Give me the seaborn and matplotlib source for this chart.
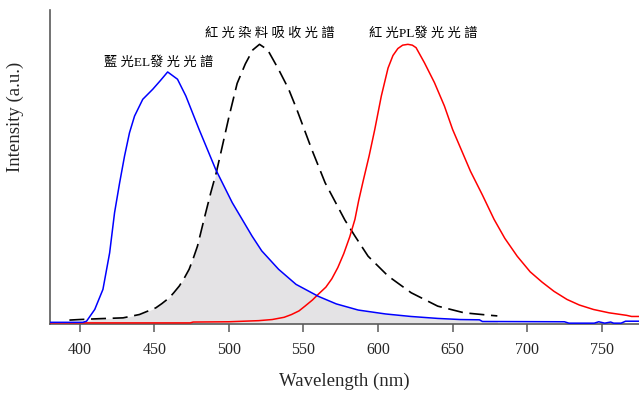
import numpy as np
import pandas as pd
import matplotlib
matplotlib.use("Agg")
import matplotlib.pyplot as plt
import seaborn as sns

# ---- data ----
blue_nm = [380, 395, 402, 404.5, 410, 415.5, 420, 423.3, 426.7, 430, 433.3, 436.7,
           442.2, 448.9, 454, 458.9, 465.5, 471.1, 480, 491.1, 502.2, 515.5, 522,
           533.3, 545, 560, 572, 586.7, 605, 622, 640, 655, 668, 670, 725, 728,
           745, 748, 752, 756, 758, 763, 766, 775]
blue_int = [0.004, 0.004, 0.004, 0.008, 0.05, 0.122, 0.253, 0.397, 0.504, 0.6, 0.683, 0.743,
            0.803, 0.839, 0.87, 0.901, 0.875, 0.815, 0.695, 0.552, 0.433, 0.313, 0.26,
            0.194, 0.14, 0.097, 0.07, 0.048, 0.034, 0.025, 0.018, 0.014, 0.013, 0.007, 0.006, 0.001,
            0.001, 0.006, 0.001, 0.005, 0.001, 0.001, 0.008, 0.008]

abs_nm = [393, 400, 413, 429, 440, 451, 455, 460, 463, 466.7, 470, 473.3, 476, 478.9, 483.3,
          487.8, 491.5, 494.5, 500, 505.5, 511, 516, 520.5, 526, 533.3, 540, 545.5, 555.5,
          564.5, 577.8, 584.5, 593.3, 606.7, 622.2, 640, 657.8, 675.5, 680]
abs_int = [0.012, 0.014, 0.017, 0.02, 0.032, 0.056, 0.071, 0.092, 0.11, 0.134, 0.162, 0.194,
           0.232, 0.277, 0.373, 0.468, 0.54, 0.61, 0.74, 0.86, 0.93, 0.98, 1.0, 0.98, 0.91,
           0.84, 0.767, 0.624, 0.504, 0.37, 0.313, 0.241, 0.17, 0.11, 0.062, 0.038, 0.029, 0.027]

red_nm = [380, 474, 476, 500, 520, 529, 537, 542, 547, 551, 556, 560, 565, 569, 573,
          577, 581, 584.5, 587, 590, 594, 597.8, 602.2, 606.7, 610, 613.3, 616.5, 620,
          623, 625.5, 631.1, 637.8, 644.5, 650, 656, 662, 670, 677.8, 685, 693.3, 702, 710,
          718, 726.7, 735, 744.5, 755, 766.7, 770, 775]
red_int = [0.002, 0.002, 0.005, 0.006, 0.01, 0.014, 0.022, 0.032, 0.045, 0.062, 0.084, 0.105,
           0.13, 0.16, 0.2, 0.25, 0.31, 0.373, 0.44, 0.51, 0.6, 0.695, 0.815, 0.915,
           0.96, 0.985, 0.997, 1.0, 0.997, 0.988, 0.934, 0.863, 0.779, 0.695, 0.62, 0.545, 0.46,
           0.373, 0.305, 0.241, 0.185, 0.148, 0.115, 0.086, 0.066, 0.05, 0.038, 0.029, 0.025, 0.025]

x_ticks = [400, 450, 500, 550, 600, 650, 700, 750]
note_texts = ["藍 光EL發 光 光 譜", "紅 光 染 料 吸 收 光 譜", "紅 光PL發 光 光 譜"]
note_x = [452.8, 527.2, 630.0]
note_y = [0.934, 1.039, 1.039]
x_label = "Wavelength (nm)"
y_label = "Intensity (a.u.)"

# ---- style ----
sns.set_style("ticks")
plt.rcParams['font.family'] = ['Liberation Serif', 'Noto Sans CJK TC']

fig = plt.figure(figsize=(6.39, 3.94), dpi=100)
ax = fig.add_axes([50 / 639, 70 / 394, 589 / 639, 314 / 394])

# shaded overlap between EL emission and dye absorption
grid = np.union1d(blue_nm, abs_nm)
grid = grid[(grid >= abs_nm[0]) & (grid <= abs_nm[-1])]
lower = np.minimum(np.interp(grid, blue_nm, blue_int), np.interp(grid, abs_nm, abs_int))
ax.fill_between(grid, 0, lower, color='#e4e3e5', lw=0, zorder=1)

df_blue = pd.DataFrame({"nm": blue_nm, "I": blue_int})
df_abs = pd.DataFrame({"nm": abs_nm, "I": abs_int})
df_red = pd.DataFrame({"nm": red_nm, "I": red_int})

sns.lineplot(data=df_abs, x="nm", y="I", color='black', lw=1.2, linestyle=(0, (9, 4)),
             estimator=None, ax=ax, zorder=3)
sns.lineplot(data=df_red, x="nm", y="I", color='#ff0000', lw=1.1,
             estimator=None, ax=ax, zorder=3)
sns.lineplot(data=df_blue, x="nm", y="I", color='#0000ff', lw=1.1,
             estimator=None, ax=ax, zorder=4)

for t, xx, yy in zip(note_texts, note_x, note_y):
    ax.text(xx, yy, t, ha='center', va='center', fontsize=9.5, color='black')

ax.set_xlim(380, 775)
ax.set_ylim(-0.002, 1.123)
ax.set_xticks(x_ticks)
ax.set_xticklabels([str(v) for v in x_ticks])
ax.set_yticks([])
ax.tick_params(axis='x', direction='out', length=6, width=1.1, color='#5a5a5a',
               labelsize=11.5, pad=7, bottom=True)
for s in ['top', 'right']:
    ax.spines[s].set_visible(False)
for s in ['left', 'bottom']:
    ax.spines[s].set_color('#5a5a5a')
    ax.spines[s].set_linewidth(1.2)

ax.set_xlabel(x_label, fontsize=13.5)
ax.set_ylabel(y_label, fontsize=13.5)
ax.xaxis.set_label_coords(0.5, -0.155)
ax.yaxis.set_label_coords(-0.044, 0.661)

fig.savefig("out.png", dpi=100)
